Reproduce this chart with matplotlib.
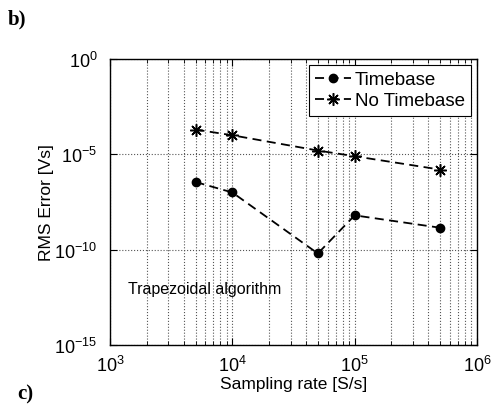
import matplotlib
matplotlib.use("Agg")
import matplotlib.pyplot as plt
from matplotlib.ticker import LogLocator, NullFormatter, NullLocator, FixedLocator

plt.rcParams['font.family'] = ['Liberation Sans', 'DejaVu Sans']

rate = [5e3, 1e4, 5e4, 1e5, 5e5]
err_timebase = [10**-6.45, 10**-7.0, 10**-10.2, 10**-8.2, 10**-8.85]
err_no_timebase = [10**-3.7, 10**-4.0, 10**-4.8, 10**-5.1, 10**-5.8]

fig = plt.figure(figsize=(4.91, 4.06), dpi=100)
ax = fig.add_axes([110 / 491, 1 - 346 / 406, 367 / 491, 286 / 406])

ax.plot(rate, err_timebase, 'k--', marker='o', markersize=6, linewidth=1.3,
        dashes=(5, 3), label='Timebase')
ax.plot(rate, err_no_timebase, 'k--', marker=(8, 2, 0), markersize=9,
        markeredgewidth=1.1, linewidth=1.3, dashes=(5, 3), label='No Timebase')

ax.set_xscale('log')
ax.set_yscale('log')
ax.set_xlim(1e3, 1e6)
ax.set_ylim(1e-15, 1e0)
ax.yaxis.set_major_locator(FixedLocator([1e-15, 1e-10, 1e-5, 1e0]))
ax.yaxis.set_minor_locator(NullLocator())
ax.xaxis.set_minor_locator(LogLocator(base=10, subs=range(2, 10), numticks=20))
ax.xaxis.set_minor_formatter(NullFormatter())

ax.grid(True, which='major', linestyle=':', color='#555555', linewidth=0.8)
ax.grid(True, which='minor', axis='x', linestyle=':', color='#555555', linewidth=0.8)
ax.tick_params(which='both', direction='in', top=True, right=True, labelsize=13)
ax.tick_params(which='major', length=5)
ax.tick_params(which='minor', length=3)
ax.tick_params(axis='x', which='major', pad=7)
ax.tick_params(axis='y', which='major', pad=9)
for s in ax.spines.values():
    s.set_linewidth(1.0)

ax.set_xlabel('Sampling rate [S/s]', fontsize=12.5, labelpad=1)
ax.set_ylabel('RMS Error [Vs]', fontsize=12.5, labelpad=0)

ax.text(1.4e3, 10**-12.06, 'Trapezoidal algorithm', fontsize=11.5, va='center')

leg = ax.legend(loc='upper right', fontsize=13.5, frameon=True, fancybox=False,
                edgecolor='black', handlelength=1.9, borderaxespad=0.3,
                labelspacing=0.2, handletextpad=0.2, borderpad=0.35,
                framealpha=1)
leg.get_frame().set_linewidth(0.8)

fig.text(8 / 491, 1 - 19 / 406, 'b)', fontsize=15, fontweight='bold',
         family='Liberation Serif', va='center')
fig.text(17 / 491, 1 - 394 / 406, 'c)', fontsize=15, fontweight='bold',
         family='Liberation Serif', va='center')

fig.savefig('out.png', dpi=100)
